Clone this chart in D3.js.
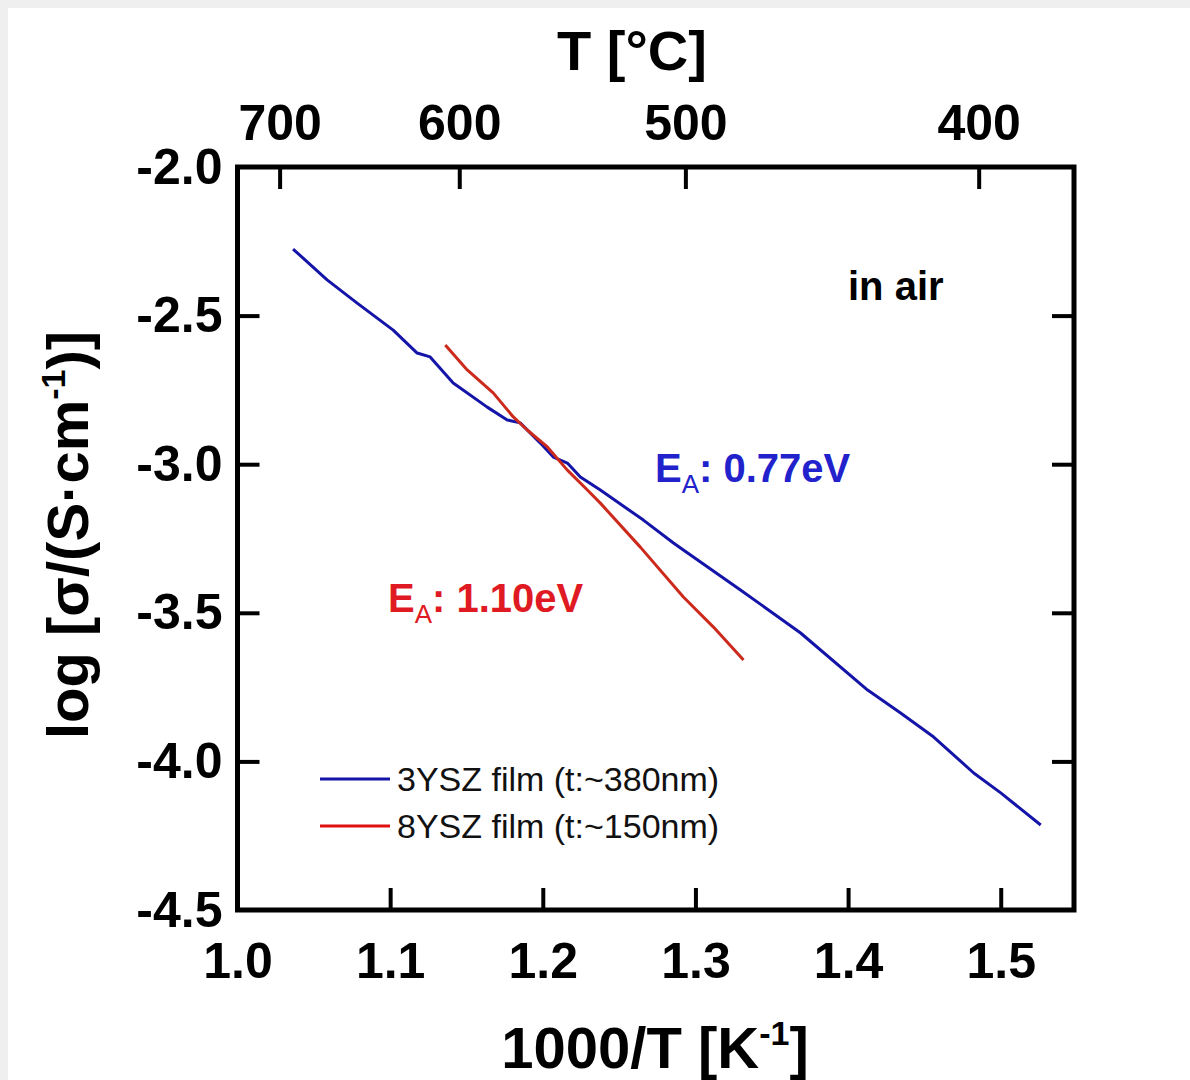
<!DOCTYPE html>
<html>
<head>
<meta charset="utf-8">
<script src="https://cdn.jsdelivr.net/npm/d3@7"></script>
<style>
  html, body { margin: 0; padding: 0; background: #efefef; }
  svg { display: block; }
</style>
</head>
<body>
<div id="chart"></div>
<script>
// 1000/T [1/K] and log conductivity
const ysz3X = [1.0364, 1.0587, 1.0784, 1.1020, 1.1177, 1.1262, 1.1413, 1.1636, 1.1767, 1.1852, 1.1984, 1.2069, 1.2161, 1.2246, 1.2377, 1.2659, 1.2856, 1.2921, 1.3295, 1.3689, 1.4128, 1.4344, 1.4561, 1.4823, 1.5000, 1.5262]
const ysz3Y = [-2.276, -2.380, -2.458, -2.549, -2.626, -2.639, -2.727, -2.808, -2.851, -2.861, -2.929, -2.976, -2.996, -3.043, -3.087, -3.188, -3.265, -3.289, -3.423, -3.568, -3.760, -3.837, -3.918, -4.039, -4.106, -4.214]

const ysz8X = [1.1361, 1.1505, 1.1675, 1.1807, 1.1898, 1.2030, 1.2161, 1.2292, 1.2377, 1.2639, 1.2921, 1.3118, 1.3315]
const ysz8Y = [-2.599, -2.683, -2.760, -2.841, -2.885, -2.942, -3.020, -3.087, -3.131, -3.279, -3.447, -3.548, -3.659]

const xTicks = [1.0, 1.1, 1.2, 1.3, 1.4, 1.5]
const yTicks = [-2.0, -2.5, -3.0, -3.5, -4.0, -4.5]
const topTicksC = [700, 600, 500, 400]

const seriesNames = ["3YSZ film (t:~380nm)", "8YSZ film (t:~150nm)"]

const width = 1190
const height = 1080
const margin = {top: 167, right: 116, bottom: 170, left: 237.5}

const lineBlue = "#1414a8"
const lineRed = "#cc2a1c"

const svg = d3.select("#chart").append("svg")
    .attr("width", width)
    .attr("height", height)
    .attr("font-family", "'Liberation Sans', Arial, sans-serif")

// white paper, with the grey strip on top and left
svg.append("rect")
    .attr("x", 8).attr("y", 8)
    .attr("width", width - 8).attr("height", height - 8)
    .attr("fill", "#ffffff")

const x = d3.scaleLinear()
    .domain([1.0, 1.548])
    .range([margin.left, width - margin.right])

const y = d3.scaleLinear()
    .domain([-2.0, -4.5])
    .range([margin.top, height - margin.bottom])

const tickLen = 22
const fontTick = 50
const fmt = d => d.toFixed(1)   // plain hyphen, like the original

// bottom axis
const gBottom = svg.append("g")
    .attr("transform", `translate(0,${y(-4.5)})`)
    .call(d3.axisBottom(x).tickValues(xTicks).tickFormat(fmt)
        .tickSize(-tickLen).tickPadding(32))
// left axis
const gLeft = svg.append("g")
    .attr("transform", `translate(${x(1.0)},0)`)
    .call(d3.axisLeft(y).tickValues(yTicks).tickFormat(fmt)
        .tickSize(-tickLen).tickPadding(15))
// right axis, ticks only
const gRight = svg.append("g")
    .attr("transform", `translate(${x(1.548)},0)`)
    .call(d3.axisRight(y).tickValues(yTicks).tickFormat("")
        .tickSize(-tickLen))
// top axis in degrees C
const gTop = svg.append("g")
    .attr("transform", `translate(0,${y(-2.0)})`)
    .call(d3.axisTop(x).tickValues(topTicksC.map(c => 1000 / (c + 273.15)))
        .tickFormat((d, i) => topTicksC[i])
        .tickSize(-tickLen).tickPadding(27))

for (const g of [gBottom, gLeft, gRight, gTop]) {
    g.select(".domain").remove()
    g.selectAll(".tick line").attr("stroke", "#000").attr("stroke-width", 4)
    g.selectAll(".tick text")
        .attr("fill", "#000")
        .attr("font-size", fontTick)
        .attr("font-weight", "bold")
        .attr("font-family", "'Liberation Sans', Arial, sans-serif")
}
// hide the end ticks that sit on the frame
gLeft.selectAll(".tick line").filter(d => d === -2.0 || d === -4.5).remove()
gRight.selectAll(".tick line").filter(d => d === -2.0 || d === -4.5).remove()
gBottom.selectAll(".tick line").filter(d => d === 1.0).remove()

// frame
svg.append("rect")
    .attr("x", x(1.0)).attr("y", y(-2.0))
    .attr("width", x(1.548) - x(1.0))
    .attr("height", y(-4.5) - y(-2.0))
    .attr("fill", "none")
    .attr("stroke", "#000")
    .attr("stroke-width", 5)

// data lines
const line = d3.line().x(d => x(d[0])).y(d => y(d[1]))

svg.append("path")
    .datum(ysz3X.map((v, i) => [v, ysz3Y[i]]))
    .attr("d", line)
    .attr("fill", "none")
    .attr("stroke", lineBlue)
    .attr("stroke-width", 3)
    .attr("stroke-linejoin", "round")

svg.append("path")
    .datum(ysz8X.map((v, i) => [v, ysz8Y[i]]))
    .attr("d", line)
    .attr("fill", "none")
    .attr("stroke", lineRed)
    .attr("stroke-width", 3)
    .attr("stroke-linejoin", "round")

// axis titles
svg.append("text")
    .attr("x", 632).attr("y", 70)
    .attr("text-anchor", "middle")
    .attr("font-size", 56)
    .attr("font-weight", "bold")
    .text("T [°C]")

const xt = svg.append("text")
    .attr("x", 655).attr("y", 1068)
    .attr("text-anchor", "middle")
    .attr("font-size", 58)
    .attr("font-weight", "bold")
xt.append("tspan").text("1000/T [K")
xt.append("tspan").attr("font-size", 34).attr("dy", -23).text("-1")
xt.append("tspan").attr("dy", 23).text("]")

const yt = svg.append("text")
    .attr("transform", "translate(88,535) rotate(-90)")
    .attr("text-anchor", "middle")
    .attr("font-size", 58)
    .attr("font-weight", "bold")
yt.append("tspan").text("log [σ/(S·cm")
yt.append("tspan").attr("font-size", 34).attr("dy", -23).text("-1")
yt.append("tspan").attr("dy", 23).text(")]")

// annotations
svg.append("text")
    .attr("x", 848).attr("y", 300)
    .attr("font-size", 40)
    .attr("font-weight", "bold")
    .text("in air")

const ea1 = svg.append("text")
    .attr("x", 655).attr("y", 482)
    .attr("font-size", 40)
    .attr("font-weight", "bold")
    .attr("fill", "#2222cc")
ea1.append("tspan").text("E")
ea1.append("tspan").attr("font-size", 26).attr("dy", 11).attr("font-weight", "normal").text("A")
ea1.append("tspan").attr("dy", -11).text(": 0.77eV")

const ea2 = svg.append("text")
    .attr("x", 388).attr("y", 612)
    .attr("font-size", 40)
    .attr("font-weight", "bold")
    .attr("fill", "#e01a22")
ea2.append("tspan").text("E")
ea2.append("tspan").attr("font-size", 26).attr("dy", 11).attr("font-weight", "normal").text("A")
ea2.append("tspan").attr("dy", -11).text(": 1.10eV")

// legend
const legendColors = [lineBlue, "#e01010"]
const legend = svg.append("g")
    .selectAll("g")
    .data(seriesNames)
    .join("g")
    .attr("transform", (d, i) => `translate(320,${779 + i * 47})`)
legend.append("line")
    .attr("x1", 0).attr("x2", 70)
    .attr("stroke", (d, i) => legendColors[i])
    .attr("stroke-width", 3)
legend.append("text")
    .attr("x", 77).attr("y", 12)
    .attr("font-size", 34)
    .attr("fill", "#111")
    .text(d => d)
</script>
</body>
</html>
